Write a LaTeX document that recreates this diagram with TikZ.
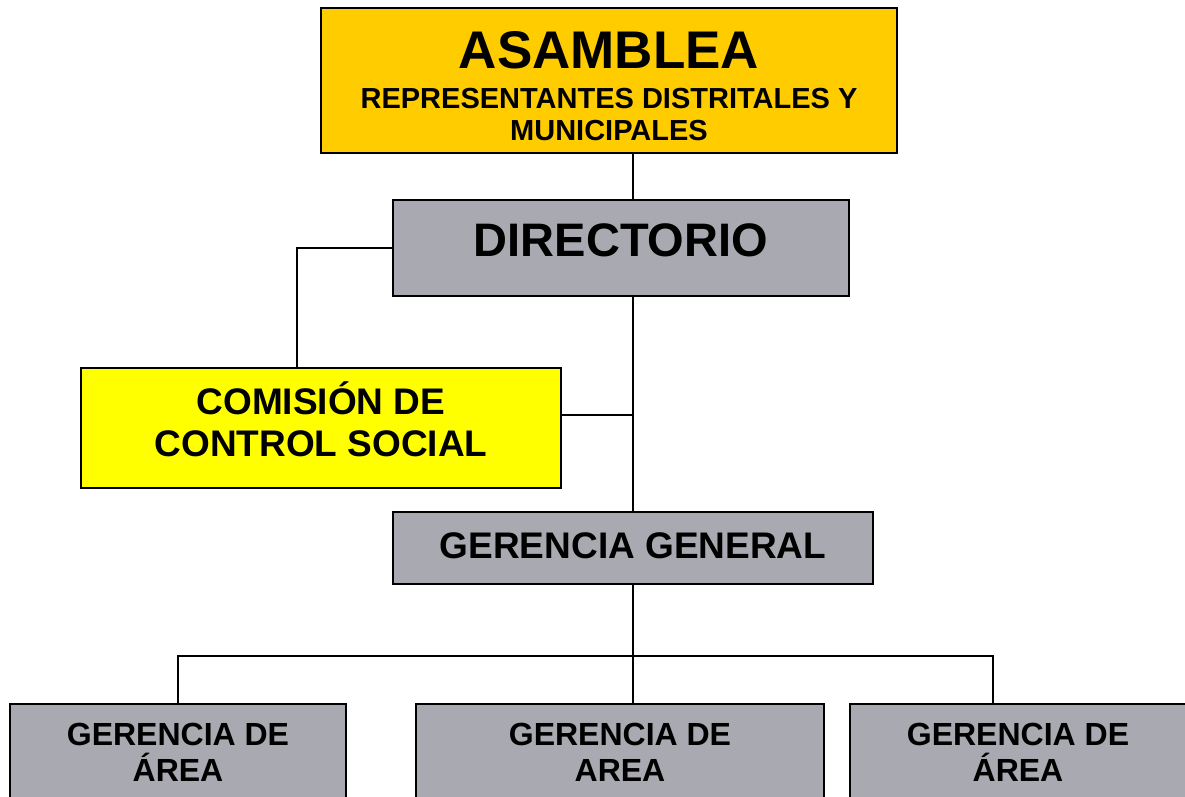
\documentclass[tikz,border=0pt]{standalone}
\usepackage{fontspec}
\setmainfont{Liberation Sans}
\usetikzlibrary{calc}
\definecolor{gold}{HTML}{FFCC00}
\definecolor{boxgray}{HTML}{A9A9B1}
\definecolor{yel}{HTML}{FFFF00}
\begin{document}
\begin{tikzpicture}[x=1pt,y=-1pt,
  box/.style={draw=black, line width=1.5pt, inner sep=0pt, align=center},
  conn/.style={draw=black, line width=1.5pt}]
\useasboundingbox (0,0) rectangle (1185,796);
\clip (0,0) rectangle (1185,796);
\node[box, fill=gold, minimum width=576pt, minimum height=145pt,
  font=\bfseries\fontsize{29}{32}\selectfont] (asm) at (609,80.5)
  {{\fontsize{53}{53}\selectfont\rule{0pt}{48.5pt}ASAMBLEA}\\[7.5pt]REPRESENTANTES DISTRITALES Y\\MUNICIPALES};
\node[box, fill=boxgray, minimum width=456pt, minimum height=96pt,
  font=\bfseries\fontsize{47}{47}\selectfont, text depth=16pt] (dir) at (621,248) {DIRECTORIO};
\node[box, fill=yel, minimum width=480pt, minimum height=120pt,
  font=\bfseries\fontsize{37}{42}\selectfont] (com) at (321,428)
  {COMISIÓN DE\\CONTROL SOCIAL\rule[-18pt]{0pt}{18pt}};
\node[box, fill=boxgray, minimum width=480pt, minimum height=72pt,
  font=\bfseries\fontsize{37}{37}\selectfont, text depth=4pt] (gg) at (633,548) {GERENCIA GENERAL};
\node[box, fill=boxgray, minimum width=336pt, minimum height=96pt,
  font=\bfseries\fontsize{32}{36}\selectfont] (a1) at (178,752) {GERENCIA DE\\ÁREA};
\node[box, fill=boxgray, minimum width=408pt, minimum height=96pt,
  font=\bfseries\fontsize{32}{36}\selectfont] (a2) at (620,752) {GERENCIA DE\\AREA};
\node[box, fill=boxgray, minimum width=336pt, minimum height=96pt,
  font=\bfseries\fontsize{32}{36}\selectfont] (a3) at (1018,752) {GERENCIA DE\\ÁREA};
\coordinate (bus) at (633,656);
\draw[conn] (asm.south -| gg.north) -- (dir.north -| gg.north);
\draw[conn] (dir.west) -| ($(com.north)+(-24,0)$);
\draw[conn] (dir.south -| gg.north) -- (gg.north);
\draw[conn] ($(com.east)+(0,-13)$) -- ($(com.east -| gg.north)+(0,-13)$);
\draw[conn] (gg.south) -- (bus);
\draw[conn] (a1.north) |- (bus) -| ($(a3.north)+(-25,0)$);
\draw[conn] (bus) -- (a2.north -| bus);
\end{tikzpicture}
\end{document}
